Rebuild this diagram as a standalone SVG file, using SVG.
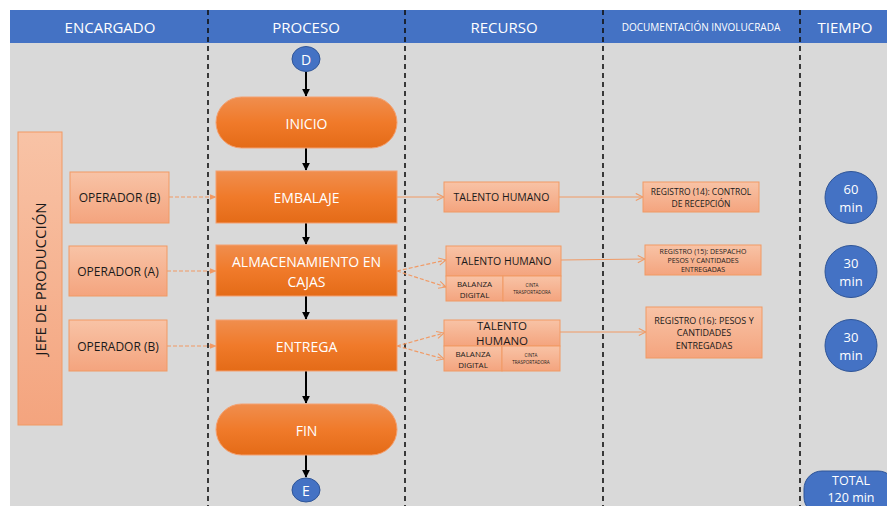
<svg xmlns="http://www.w3.org/2000/svg" width="887" height="506" viewBox="0 0 887 506">
<defs>
<linearGradient id="gProc" x1="0" y1="0" x2="0" y2="1"><stop offset="0" stop-color="#F08E4E"/><stop offset="0.5" stop-color="#F07A2A"/><stop offset="1" stop-color="#E46B17"/></linearGradient>
<linearGradient id="gLight" x1="0" y1="0" x2="0" y2="1"><stop offset="0" stop-color="#F8C3A6"/><stop offset="1" stop-color="#F4A47E"/></linearGradient>
<marker id="mBlack" viewBox="0 0 10 10" refX="9" refY="5" markerWidth="4" markerHeight="4" orient="auto"><path d="M0,0 L10,5 L0,10 z" fill="#000"/></marker>
<marker id="mDash" viewBox="0 0 10 10" refX="9" refY="5" markerWidth="7" markerHeight="7" orient="auto" markerUnits="userSpaceOnUse"><path d="M0,1 L10,5 L0,9 z" fill="#F19A65"/></marker>
<marker id="mOpen" viewBox="0 0 10 10" refX="9" refY="5" markerWidth="9" markerHeight="9" orient="auto" markerUnits="userSpaceOnUse"><path d="M1,1 L9,5 L1,9" fill="none" stroke="#F19A65" stroke-width="1.2"/></marker>
</defs>
<style>
text{font-family:"Open Sans","Liberation Sans",sans-serif;text-anchor:middle;dominant-baseline:central}
.hdr{fill:#fff;font-size:15px}
.proc{fill:url(#gProc);stroke:#F4A070;stroke-width:1}
.ptxt{fill:#fff;font-size:14px}
.light{fill:url(#gLight);stroke:#F19A65;stroke-width:1}
.dtxt{fill:#1a1a1a}
.sep{stroke:#111;stroke-width:1.6;stroke-dasharray:5,4}
.flow{stroke:#000;stroke-width:2;fill:none}
.dash{stroke:#F19A65;stroke-width:1.2;stroke-dasharray:4,2;fill:none}
.solid{stroke:#F19A65;stroke-width:1;fill:none}
.blue{fill:#4472C4;stroke:#2F5597;stroke-width:1}
.btxt{fill:#fff;font-size:13px}
</style>
<rect x="0" y="0" width="887" height="506" fill="#fff"/>
<rect x="10" y="10" width="877" height="496" fill="#D9D9D9"/>
<rect x="10" y="10" width="877" height="33" fill="#4472C4"/>
<text class="hdr" x="110" y="27">ENCARGADO</text>
<text class="hdr" x="306" y="27">PROCESO</text>
<text class="hdr" x="504" y="27">RECURSO</text>
<text class="hdr" x="701" y="27" style="font-size:10px">DOCUMENTACIÓN INVOLUCRADA</text>
<text class="hdr" x="845" y="27">TIEMPO</text>
<g id="separators">
<line class="sep" x1="208" y1="10" x2="208" y2="506"/>
<line class="sep" x1="405" y1="10" x2="405" y2="506"/>
<line class="sep" x1="603" y1="10" x2="603" y2="506"/>
<line class="sep" x1="800" y1="10" x2="800" y2="506"/>
</g>
<g id="connectors">
<line class="flow" x1="306" y1="72" x2="306" y2="96" marker-end="url(#mBlack)"/>
<line class="flow" x1="306" y1="148" x2="306" y2="170" marker-end="url(#mBlack)"/>
<line class="flow" x1="306" y1="223" x2="306" y2="244" marker-end="url(#mBlack)"/>
<line class="flow" x1="306" y1="296" x2="306" y2="319" marker-end="url(#mBlack)"/>
<line class="flow" x1="306" y1="371" x2="306" y2="403" marker-end="url(#mBlack)"/>
<line class="flow" x1="306" y1="455" x2="306" y2="477" marker-end="url(#mBlack)"/>
<line class="dash" x1="169" y1="197" x2="216" y2="197" marker-end="url(#mDash)"/>
<line class="dash" x1="167" y1="271" x2="216" y2="271" marker-end="url(#mDash)"/>
<line class="dash" x1="167" y1="346" x2="216" y2="346" marker-end="url(#mDash)"/>
<line class="solid" x1="397" y1="197" x2="444" y2="197" marker-end="url(#mOpen)"/>
<line class="dash" x1="397" y1="271" x2="446" y2="260" marker-end="url(#mOpen)"/>
<line class="dash" x1="397" y1="271" x2="446" y2="287" marker-end="url(#mOpen)"/>
<line class="dash" x1="397" y1="346" x2="444" y2="333" marker-end="url(#mOpen)"/>
<line class="dash" x1="397" y1="346" x2="444" y2="359" marker-end="url(#mOpen)"/>
<line class="solid" x1="559" y1="197" x2="643" y2="197" marker-end="url(#mOpen)"/>
<line class="solid" x1="561" y1="260" x2="645" y2="259" marker-end="url(#mOpen)"/>
<line class="solid" x1="560" y1="332" x2="646" y2="332" marker-end="url(#mOpen)"/>
</g>
<g id="jefe"><rect class="light" x="18" y="132" width="44" height="293"/><text class="dtxt" transform="translate(40,279) rotate(-90)" style="font-size:15px">JEFE DE PRODUCCIÓN</text></g>
<g id="op1"><rect class="light" x="70" y="172" width="99" height="51"/><text class="dtxt" x="119.5" y="197.5" style="font-size:12px">OPERADOR (B)</text></g>
<g id="op2"><rect class="light" x="69" y="246" width="98" height="50"/><text class="dtxt" x="118" y="271" style="font-size:12px">OPERADOR (A)</text></g>
<g id="op3"><rect class="light" x="69" y="320" width="98" height="51"/><text class="dtxt" x="118" y="346" style="font-size:12px">OPERADOR (B)</text></g>
<g id="D"><ellipse class="blue" cx="306" cy="59" rx="14" ry="12.5"/><text class="btxt" x="306" y="59" style="font-size:14px">D</text></g>
<g id="inicio"><rect class="proc" x="216" y="97" width="181" height="51" rx="25.5"/><text class="ptxt" x="306.5" y="123">INICIO</text></g>
<g id="embalaje"><rect class="proc" x="216" y="171" width="181" height="52"/><text class="ptxt" x="306.5" y="197">EMBALAJE</text></g>
<g id="almacen"><rect class="proc" x="216" y="245" width="181" height="51"/><text class="ptxt" x="306.5" y="261">ALMACENAMIENTO EN</text><text class="ptxt" x="306.5" y="281">CAJAS</text></g>
<g id="entrega"><rect class="proc" x="216" y="320" width="181" height="51"/><text class="ptxt" x="306.5" y="346">ENTREGA</text></g>
<g id="fin"><rect class="proc" x="216" y="404" width="181" height="51" rx="25.5"/><text class="ptxt" x="306.5" y="430">FIN</text></g>
<g id="E"><ellipse class="blue" cx="306" cy="490" rx="14" ry="12"/><text class="btxt" x="306" y="490" style="font-size:14px">E</text></g>
<g id="res1"><rect class="light" x="444" y="182" width="115" height="30"/><text class="dtxt" x="501.5" y="197" style="font-size:10.5px">TALENTO HUMANO</text></g>
<g id="res2"><rect class="light" x="446" y="246" width="115" height="30"/><rect class="light" x="446" y="276" width="57" height="25"/><rect class="light" x="503" y="276" width="58" height="25"/><text class="dtxt" x="503.5" y="261" style="font-size:10.5px">TALENTO HUMANO</text><text class="dtxt" x="474.5" y="283" style="font-size:8px">BALANZA</text><text class="dtxt" x="474.5" y="294" style="font-size:8px">DIGITAL</text><text class="dtxt" x="532" y="285" style="font-size:4.5px">CINTA</text><text class="dtxt" x="532" y="292" style="font-size:4.5px">TRASPORTADORA</text></g>
<g id="res3"><rect class="light" x="444" y="320" width="116" height="26"/><rect class="light" x="444" y="346" width="58" height="25"/><rect class="light" x="502" y="346" width="58" height="25"/><text class="dtxt" x="502" y="325.5" style="font-size:11.5px">TALENTO</text><text class="dtxt" x="502" y="340" style="font-size:11.5px">HUMANO</text><text class="dtxt" x="473" y="353" style="font-size:8px">BALANZA</text><text class="dtxt" x="473" y="364" style="font-size:8px">DIGITAL</text><text class="dtxt" x="531" y="355" style="font-size:4.5px">CINTA</text><text class="dtxt" x="531" y="362" style="font-size:4.5px">TRASPORTADORA</text></g>
<g id="doc1"><rect class="light" x="643" y="182" width="116" height="30"/><text class="dtxt" x="701" y="191" style="font-size:8.5px">REGISTRO (14): CONTROL</text><text class="dtxt" x="701" y="203" style="font-size:8.5px">DE RECEPCIÓN</text></g>
<g id="doc2"><rect class="light" x="645" y="245" width="116" height="30"/><text class="dtxt" x="703" y="251" style="font-size:7px">REGISTRO (15): DESPACHO</text><text class="dtxt" x="703" y="260" style="font-size:7px">PESOS Y CANTIDADES</text><text class="dtxt" x="703" y="269" style="font-size:7px">ENTREGADAS</text></g>
<g id="doc3"><rect class="light" x="646" y="307" width="116" height="51"/><text class="dtxt" x="704" y="320" style="font-size:9px">REGISTRO (16): PESOS Y</text><text class="dtxt" x="704" y="332.5" style="font-size:9px">CANTIDADES</text><text class="dtxt" x="704" y="345" style="font-size:9px">ENTREGADAS</text></g>
<g id="t1"><circle class="blue" cx="851" cy="197.5" r="26"/><text class="btxt" x="851" y="188.5">60</text><text class="btxt" x="851" y="206.5">min</text></g>
<g id="t2"><circle class="blue" cx="851" cy="271.5" r="26"/><text class="btxt" x="851" y="262.5">30</text><text class="btxt" x="851" y="280.5">min</text></g>
<g id="t3"><circle class="blue" cx="851" cy="345.5" r="26"/><text class="btxt" x="851" y="336.5">30</text><text class="btxt" x="851" y="354.5">min</text></g>
<g id="total"><rect class="blue" x="804" y="471" width="92" height="44" rx="18"/><text class="btxt" x="851" y="480" style="font-size:12.5px">TOTAL</text><text class="btxt" x="851" y="497" style="font-size:12.5px">120 min</text></g>
</svg>
